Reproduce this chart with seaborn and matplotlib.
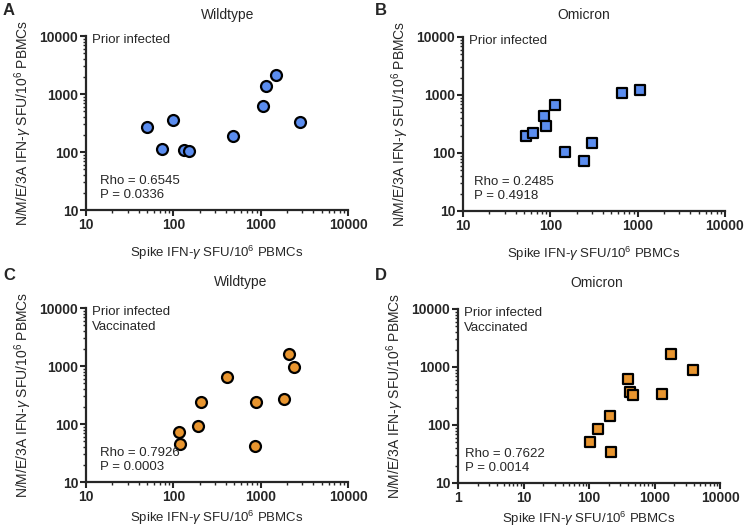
import numpy as np
import pandas as pd
import seaborn as sns
import matplotlib.pyplot as plt
from matplotlib.ticker import LogLocator, FuncFormatter, NullFormatter

# data (spike, N/M/E/3A)
a_spike = [50, 74, 99, 131, 151, 486, 1064, 1140, 1500, 2818]
a_nme = [273, 114, 357, 108, 105, 191, 621, 1373, 2153, 325]

b_spike = [52, 64, 85, 89, 113, 146, 241, 300, 656, 1054]
b_nme = [196, 218, 440, 288, 681, 105, 74, 151, 1069, 1236]

c_spike = [116, 119, 193, 206, 415, 869, 892, 1833, 2092, 2410]
c_nme = [74, 45, 91, 243, 655, 41, 237, 266, 1611, 948]

d_spike = [102, 135, 208, 218, 395, 419, 477, 1306, 1790, 3873]
d_nme = [51, 87, 141, 34, 612, 371, 329, 342, 1698, 899]

panels = ["A", "B", "C", "D"]
titles = ["Wildtype", "Omicron", "Wildtype", "Omicron"]
groups = ["Prior infected", "Prior infected",
          "Prior infected\nVaccinated", "Prior infected\nVaccinated"]
rho = ["0.6545", "0.2485", "0.7926", "0.7622"]
pval = ["0.0336", "0.4918", "0.0003", "0.0014"]
xmins = [10, 10, 10, 1]

sns.set_style("ticks")
plt.rcParams["font.family"] = ["Liberation Sans", "DejaVu Sans"]
plt.rcParams["mathtext.fontset"] = "custom"
plt.rcParams["mathtext.rm"] = "Liberation Sans"
plt.rcParams["mathtext.it"] = "Liberation Sans:italic"

blue = "#5b8def"
orange = "#e8952f"

fig = plt.figure(figsize=(7.44, 5.29), dpi=100)
W, H = 744, 529
# axes boxes in pixels: left, right, top, bottom
boxes = [(86, 348, 36, 210), (463, 725, 37, 211),
         (86, 348, 308, 482), (458, 720, 309, 483)]
title_pos = [(0.542, 1.12), (0.462, 1.125), (0.592, 1.148), (0.531, 1.152)]
stat_x = [0.053, 0.042, 0.053, 0.025]
xlabel_pad = [9, 9, 4, 4]

data = [(a_spike, a_nme, blue, "o"), (b_spike, b_nme, blue, "s"),
        (c_spike, c_nme, orange, "o"), (d_spike, d_nme, orange, "s")]

fmt = FuncFormatter(lambda v, p: f"{v:g}")

for i, (xs, ys, col, mk) in enumerate(data):
    l, r, t, b = boxes[i]
    ax = fig.add_axes([l / W, 1 - b / H, (r - l) / W, (b - t) / H])
    df = pd.DataFrame({"spike": xs, "nme": ys})
    sns.scatterplot(data=df, x="spike", y="nme", ax=ax, color=col, marker=mk,
                    s=62 if mk == "o" else 58, edgecolor="black", linewidth=1.6,
                    zorder=3, clip_on=False)
    ax.set_xscale("log")
    ax.set_yscale("log")
    ax.set_xlim(xmins[i], 10000)
    ax.set_ylim(10, 10000)
    for axis in (ax.xaxis, ax.yaxis):
        axis.set_major_locator(LogLocator(base=10, numticks=10))
        axis.set_minor_locator(LogLocator(base=10, subs=np.arange(2, 10), numticks=20))
        axis.set_major_formatter(fmt)
        axis.set_minor_formatter(NullFormatter())
    ax.tick_params(which="major", length=4, width=1.5, labelsize=10, pad=1.5)
    ax.tick_params(which="minor", length=2.5, width=1.0)
    for lab in ax.get_xticklabels() + ax.get_yticklabels():
        lab.set_fontweight("bold")
    for s in ("left", "bottom"):
        ax.spines[s].set_linewidth(1.6)
    sns.despine(ax=ax)
    ax.set_xlabel(r"Spike IFN-$\it{\gamma}$ SFU/10$^{6}$ PBMCs", fontsize=9.5,
                  labelpad=xlabel_pad[i])
    ax.set_ylabel(r"N/M/E/3A IFN-$\it{\gamma}$ SFU/10$^{6}$ PBMCs", fontsize=10, labelpad=4)
    ax.text(0.023, 1.01, groups[i], transform=ax.transAxes, ha="left", va="top",
            fontsize=9.5, linespacing=1.25)
    ax.text(stat_x[i], 0.05, f"Rho = {rho[i]}\nP = {pval[i]}", transform=ax.transAxes,
            ha="left", va="bottom", fontsize=9.5, linespacing=1.3)
    tx, ty = title_pos[i]
    ax.text(tx, ty, titles[i], transform=ax.transAxes, ha="center", va="center",
            fontsize=10)

fig.text(3 / W, 1 - 3 / H, "A", fontsize=12, fontweight="bold", va="top")
fig.text(375 / W, 1 - 3 / H, "B", fontsize=12, fontweight="bold", va="top")
fig.text(3 / W, 1 - 268 / H, "C", fontsize=12, fontweight="bold", va="top")
fig.text(375 / W, 1 - 268 / H, "D", fontsize=12, fontweight="bold", va="top")

fig.savefig("out.png", dpi=100)
